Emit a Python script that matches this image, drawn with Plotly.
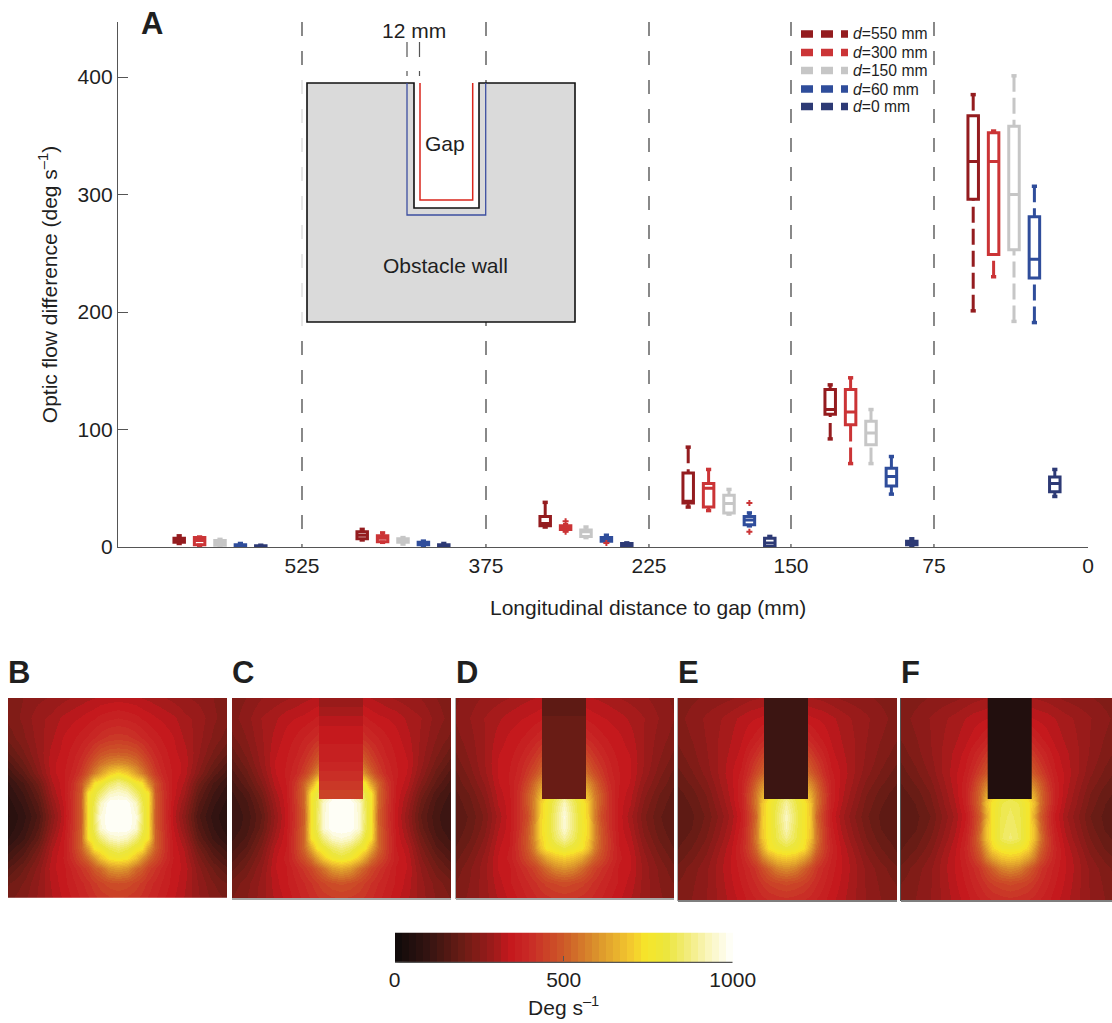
import plotly.graph_objects as go
from plotly.colors import sample_colorscale

W, H = 1112, 1023

# ---------- data: panel A ----------
DIST_LABELS = ["525", "375", "225", "150", "75", "0"]
Y_TICKS = [0, 100, 200, 300, 400]
SERIES_NAMES = ["d=550", "d=300", "d=150", "d=60", "d=0"]

D550_UPPER = [9.5, 15, 38, 85, 138, 385]
D550_Q3 = [7.5, 13, 26, 63, 134, 367]
D550_MED = [6, 10, 20, 39, 117, 328]
D550_Q1 = [4, 7, 18, 37.5, 113, 296]
D550_LOWER = [3, 6, 17, 34, 92, 201]

D300_UPPER = [8.5, 12, 19, 66, 144, 354]
D300_Q3 = [8, 9.5, 18, 54, 134, 352.6]
D300_MED = [5.5, 7.5, 16.5, 50, 115, 328]
D300_Q1 = [2, 4.5, 15, 34, 104, 249]
D300_LOWER = [1.5, 4, 14, 31, 71, 230]

D150_UPPER = [6.5, 8, 17, 49, 117, 401]
D150_Q3 = [5.5, 7, 14.5, 44, 107, 358]
D150_MED = [3.5, 5.5, 13, 37, 97, 300]
D150_Q1 = [1.5, 4, 9, 29, 87, 253]
D150_LOWER = [1, 2.5, 8, 28, 71, 192]

D60_UPPER = [3, 5, 10, 29, 77, 307]
D60_Q3 = [2, 4, 8, 26, 67, 281]
D60_MED = [1.5, 3, 6.5, 23, 60, 245]
D60_Q1 = [0.5, 2, 5, 19, 52, 229]
D60_LOWER = [0, 1, 4, 18, 45, 191]

D0_UPPER = [1.5, 3, 3.5, 9, 7, 66]
D0_Q3 = [1, 2, 3, 7.5, 5, 59.6]
D0_MED = [0.5, 1, 2, 3.5, 3.5, 54]
D0_Q1 = [0, 0.5, 1, 0.5, 2, 47]
D0_LOWER = [0, 0, 0.5, 0, 0.5, 43]

# outliers: (group index, series index, value)
OUTLIER_GROUP = [2, 2, 2, 3, 3]
OUTLIER_SERIES = [1, 1, 3, 3, 3]
OUTLIER_VALUE = [22, 13, 3.5, 37.5, 13]

# ---------- data: panels B-F (rows top to bottom, centre column outwards) ----------
FIELD_B = [
    [325, 322, 318, 312, 308, 302, 295, 285, 275, 265, 250, 235],
    [375, 370, 362, 352, 345, 336, 328, 318, 298, 285, 255, 235],
    [430, 425, 410, 395, 380, 365, 350, 335, 310, 280, 245, 215],
    [505, 500, 480, 450, 420, 390, 365, 340, 322, 275, 225, 185],
    [590, 575, 540, 500, 455, 410, 375, 345, 328, 265, 205, 160],
    [740, 700, 620, 560, 500, 430, 385, 350, 325, 250, 180, 130],
    [880, 840, 770, 745, 600, 490, 410, 345, 310, 215, 145, 100],
    [950, 930, 850, 790, 750, 500, 420, 345, 295, 190, 125, 85],
    [1000, 1000, 930, 820, 760, 510, 420, 335, 275, 170, 110, 72],
    [1000, 1000, 960, 840, 750, 500, 420, 325, 255, 150, 95, 60],
    [1000, 1000, 950, 830, 760, 510, 425, 335, 270, 165, 105, 68],
    [950, 930, 860, 790, 745, 520, 430, 345, 290, 185, 120, 82],
    [850, 820, 770, 750, 620, 510, 430, 350, 310, 215, 150, 110],
    [770, 750, 680, 600, 530, 470, 415, 355, 320, 240, 175, 135],
    [620, 600, 530, 500, 450, 420, 385, 345, 328, 258, 205, 165],
    [480, 470, 450, 430, 410, 390, 370, 345, 318, 270, 230, 205],
    [430, 425, 415, 405, 390, 375, 355, 335, 310, 275, 245, 225],
]
FIELD_C = [
    [330, 328, 322, 316, 312, 306, 298, 288, 280, 270, 250, 235],
    [385, 380, 370, 358, 348, 340, 334, 326, 308, 292, 262, 240],
    [445, 440, 425, 405, 390, 375, 358, 342, 320, 288, 250, 222],
    [530, 520, 495, 465, 430, 400, 372, 350, 330, 282, 235, 195],
    [620, 600, 560, 510, 465, 420, 385, 355, 335, 278, 220, 175],
    [770, 730, 650, 580, 510, 445, 395, 358, 332, 265, 200, 155],
    [900, 860, 790, 750, 620, 520, 430, 355, 322, 245, 180, 135],
    [970, 950, 880, 800, 750, 530, 440, 350, 305, 220, 155, 120],
    [1000, 1000, 940, 830, 760, 530, 435, 345, 290, 200, 140, 110],
    [1000, 1000, 950, 840, 750, 510, 430, 340, 275, 185, 130, 105],
    [1000, 1000, 950, 830, 760, 525, 435, 345, 285, 195, 135, 108],
    [960, 940, 870, 790, 745, 530, 445, 350, 300, 215, 150, 118],
    [870, 840, 780, 750, 640, 525, 440, 355, 320, 235, 170, 135],
    [790, 765, 700, 620, 545, 480, 425, 362, 330, 252, 195, 155],
    [640, 615, 545, 505, 460, 425, 392, 352, 332, 268, 215, 180],
    [485, 475, 455, 435, 415, 395, 375, 350, 325, 278, 240, 215],
    [430, 425, 418, 408, 395, 380, 360, 338, 315, 280, 250, 230],
]
FIELD_D = [
    [328, 325, 320, 316, 312, 308, 302, 292, 285, 275, 260, 245],
    [375, 370, 358, 348, 342, 336, 330, 322, 308, 292, 270, 250],
    [430, 425, 410, 392, 378, 362, 350, 338, 322, 290, 262, 240],
    [500, 495, 470, 440, 415, 390, 365, 345, 332, 290, 255, 225],
    [570, 555, 520, 480, 440, 410, 378, 350, 335, 290, 248, 215],
    [640, 620, 570, 520, 475, 430, 385, 355, 335, 285, 238, 200],
    [750, 720, 650, 590, 530, 460, 400, 355, 332, 272, 225, 190],
    [850, 800, 720, 650, 560, 490, 410, 350, 322, 258, 210, 180],
    [930, 840, 760, 700, 580, 490, 415, 345, 315, 245, 200, 172],
    [960, 860, 760, 710, 570, 470, 410, 345, 300, 232, 190, 168],
    [950, 860, 770, 720, 590, 490, 415, 345, 310, 240, 195, 170],
    [900, 840, 760, 710, 590, 495, 425, 350, 320, 252, 205, 176],
    [810, 780, 750, 680, 570, 490, 425, 355, 330, 265, 218, 186],
    [700, 680, 630, 570, 515, 465, 415, 360, 335, 278, 232, 198],
    [600, 580, 530, 490, 450, 420, 390, 350, 335, 282, 245, 212],
    [470, 460, 445, 428, 410, 392, 372, 350, 325, 282, 250, 228],
    [415, 410, 402, 395, 385, 372, 355, 335, 312, 280, 255, 238],
]
FIELD_E = [
    [305, 302, 298, 294, 290, 286, 278, 268, 262, 255, 245, 235],
    [360, 355, 345, 338, 333, 328, 318, 305, 290, 275, 258, 240],
    [425, 420, 405, 385, 365, 348, 330, 312, 295, 272, 250, 232],
    [495, 490, 465, 435, 405, 375, 340, 318, 298, 268, 242, 220],
    [565, 550, 515, 475, 435, 395, 350, 325, 298, 265, 235, 210],
    [630, 610, 560, 510, 465, 410, 360, 330, 298, 258, 225, 198],
    [740, 710, 640, 580, 520, 440, 370, 325, 292, 245, 212, 188],
    [830, 790, 710, 640, 550, 460, 375, 322, 282, 232, 198, 178],
    [900, 820, 750, 690, 560, 460, 370, 315, 272, 222, 190, 172],
    [930, 840, 750, 700, 530, 440, 355, 300, 258, 212, 182, 168],
    [920, 830, 750, 700, 550, 450, 365, 310, 268, 220, 186, 170],
    [880, 820, 750, 690, 560, 455, 375, 320, 278, 230, 195, 176],
    [800, 780, 740, 640, 530, 450, 385, 330, 292, 242, 208, 184],
    [700, 680, 620, 560, 480, 425, 375, 335, 302, 255, 222, 195],
    [590, 570, 510, 470, 425, 395, 365, 335, 306, 265, 238, 212],
    [465, 455, 440, 420, 400, 380, 355, 330, 302, 268, 245, 228],
    [405, 400, 392, 385, 372, 360, 340, 320, 298, 270, 250, 235],
]
FIELD_F = [
    [300, 298, 295, 292, 288, 284, 276, 266, 260, 252, 242, 230],
    [350, 346, 338, 332, 327, 322, 312, 300, 288, 272, 256, 238],
    [410, 405, 392, 375, 358, 342, 325, 308, 293, 270, 248, 230],
    [470, 465, 445, 420, 395, 370, 340, 318, 298, 268, 240, 218],
    [530, 520, 490, 455, 420, 385, 350, 322, 298, 262, 232, 206],
    [590, 575, 530, 490, 450, 405, 358, 328, 298, 255, 222, 196],
    [690, 670, 610, 560, 505, 430, 368, 325, 290, 242, 210, 186],
    [790, 770, 690, 620, 530, 450, 372, 320, 280, 230, 196, 178],
    [830, 810, 750, 680, 540, 450, 368, 312, 272, 220, 188, 172],
    [840, 820, 750, 640, 510, 425, 350, 298, 258, 208, 180, 168],
    [850, 825, 750, 680, 530, 435, 360, 308, 268, 216, 184, 170],
    [860, 830, 750, 680, 550, 450, 372, 318, 278, 228, 194, 176],
    [780, 770, 720, 620, 520, 445, 382, 328, 292, 240, 206, 184],
    [700, 680, 620, 560, 480, 425, 375, 335, 302, 255, 222, 195],
    [590, 570, 510, 470, 425, 395, 365, 335, 306, 265, 238, 212],
    [465, 455, 440, 420, 400, 380, 355, 330, 302, 268, 245, 228],
    [405, 400, 392, 385, 372, 360, 340, 320, 298, 270, 250, 235],
]
# value of the gap patch, from its top band to its bottom band
GAP_C = [285, 300, 320, 335, 345, 355, 370, 385, 400, 420, 440]
GAP_D = [170, 170, 195, 195, 195, 195, 195, 195, 195, 195, 195]
GAP_E = [118, 118, 118, 118, 118, 118, 118, 118, 118, 118, 118]
GAP_F = [58, 58, 58, 58, 58, 58, 58, 58, 58, 58, 58]
CBAR_TICKS = [0, 500, 1000]

# ---------- layout constants (pixels of the page) ----------
GROUP_PX = [220, 403, 586, 729, 871, 1014]
SERIES_STEP = 20.4
DIVIDER_PX = [302, 486, 649, 791, 934]
TICK_PX = DIVIDER_PX + [1088]
COLORS = ["#941c1f", "#cb3436", "#c6c6c6", "#2f4d9b", "#2d3a75"]
LEGEND_ROW_PX = [34, 52.5, 70.5, 89, 106.5]
FONT = "Liberation Sans"
INK = "#1f1f1f"
AXIS = "#555555"
AX_L, AX_R, AX_TOP, AX_BOT = 118, 1088, 22, 547
Y_TOP = (AX_BOT - AX_TOP) / 1.175
TEXT_SIZE = 21


def px(x):
    return x / W


def py(y):
    return 1 - y / H


stats = [
    (D550_UPPER, D550_Q3, D550_MED, D550_Q1, D550_LOWER),
    (D300_UPPER, D300_Q3, D300_MED, D300_Q1, D300_LOWER),
    (D150_UPPER, D150_Q3, D150_MED, D150_Q1, D150_LOWER),
    (D60_UPPER, D60_Q3, D60_MED, D60_Q1, D60_LOWER),
    (D0_UPPER, D0_Q3, D0_MED, D0_Q1, D0_LOWER),
]


def slot(group, series):
    return GROUP_PX[group] + (series - 2) * SERIES_STEP


fig = go.Figure()

for s, (upper, q3, med, q1, lower) in enumerate(stats):
    col = COLORS[s]
    xs = [slot(g, s) for g in range(len(GROUP_PX))]
    wx, wy, cx, cy = [], [], [], []
    for x, u, a, b, l in zip(xs, upper, q3, q1, lower):
        wx += [x, x, None, x, x, None]
        wy += [u, a, None, l, b, None]
        cx += [x - 2.6, x + 2.6, None, x - 2.6, x + 2.6, None]
        cy += [u, u, None, l, l, None]
    fig.add_trace(go.Scatter(x=wx, y=wy, mode="lines", showlegend=False, hoverinfo="skip",
                             line=dict(color=col, width=3, dash="16px,6px")))
    fig.add_trace(go.Scatter(x=cx, y=cy, mode="lines", showlegend=False, hoverinfo="skip",
                             line=dict(color=col, width=3.5)))
    fig.add_trace(go.Box(x=xs, q1=q1, median=med, q3=q3, lowerfence=q1, upperfence=q3,
                         width=10.5, boxpoints=False, showlegend=False,
                         line=dict(color=col, width=3), fillcolor="white",
                         whiskerwidth=0))

fig.add_trace(go.Scatter(
    x=[slot(g, s) for g, s in zip(OUTLIER_GROUP, OUTLIER_SERIES)], y=OUTLIER_VALUE,
    mode="markers", showlegend=False, hoverinfo="skip",
    marker=dict(symbol="cross", size=5, color=COLORS[1], line=dict(width=0))))

# ---------- heat-map panels ----------
HALF_COLS = [0, 9, 18, 24, 30, 37, 45, 55, 66, 80, 95, 110]
FULL_COLS = [-c for c in HALF_COLS[:0:-1]] + HALF_COLS
ROWS = [0, 20, 40, 55, 65, 75, 85, 95, 105, 118, 130, 140, 150, 160, 170, 185, 203]
panels = [
    ("B", FIELD_B, None, 8, 227, 698, 897.7, 117.5),
    ("C", FIELD_C, GAP_C, 232, 451, 698, 898, 341),
    ("D", FIELD_D, GAP_D, 456, 674, 698, 898, 564),
    ("E", FIELD_E, GAP_E, 678, 897, 698, 900, 786),
    ("F", FIELD_F, GAP_F, 901, 1112, 698, 900, 1009.7),
]
GAP_HALF = 22
GAP_DEPTH = 100.5

layout_axes = {}
annotations = []
for i, (letter, field, gap, left, right, top, bottom, centre) in enumerate(panels):
    n = i + 2
    z = [row[:0:-1] + row for row in field]
    fig.add_trace(go.Heatmap(x=FULL_COLS, y=ROWS, z=z, coloraxis="coloraxis", zsmooth="best",
                             xaxis=f"x{n}", yaxis=f"y{n}", hoverinfo="skip"))
    if gap:
        band = GAP_DEPTH / len(gap)
        fig.add_trace(go.Heatmap(x=[-GAP_HALF, GAP_HALF],
                                 y=[k * band for k in range(len(gap) + 1)],
                                 z=[[v] for v in gap], coloraxis="coloraxis", zsmooth=False,
                                 xaxis=f"x{n}", yaxis=f"y{n}", hoverinfo="skip"))
    layout_axes[f"xaxis{n}"] = dict(domain=[px(left), px(right)], range=[left - centre, right - centre],
                                    visible=False, anchor=f"y{n}")
    layout_axes[f"yaxis{n}"] = dict(domain=[py(bottom), py(top)], range=[bottom - top, 0],
                                    visible=False, anchor=f"x{n}")
    annotations.append(dict(text=f"<b>{letter}</b>", xref="paper", yref="paper", x=px(left), y=py(672),
                            xanchor="left", yanchor="middle", showarrow=False,
                            font=dict(size=31, family=FONT, color=INK), xshift=-2))


def note(text, x, y, size=TEXT_SIZE, anchor="center"):
    annotations.append(dict(text=text, xref="paper", yref="paper", x=px(x), y=py(y), showarrow=False,
                            xanchor=anchor, yanchor="middle",
                            font=dict(size=size, family=FONT, color=INK)))


note("<b>A</b>", 152, 24, size=31)
note("Longitudinal distance to gap (mm)", 648, 607)
note("12 mm", 414, 31)
note("Gap", 445, 143)
note("Obstacle wall", 445, 265)

# ---------- schematic and rules ----------
shapes = []


def hline(x0, y0, x1, y1, color, width, dash=None, layer="above", opacity=1):
    line = dict(color=color, width=width)
    if dash:
        line["dash"] = dash
    shapes.append(dict(type="line", xref="paper", yref="paper", x0=px(x0), y0=py(y0), x1=px(x1), y1=py(y1),
                       line=line, layer=layer, opacity=opacity))


def pathof(points, close=False):
    s = "M " + " L ".join(f"{px(x):.5f} {py(y):.5f}" for x, y in points)
    return s + (" Z" if close else "")


for x in DIVIDER_PX:
    hline(x, AX_TOP, x, AX_BOT, "#4a4a4a", 1.3, dash="14px,15px", layer="below")
for x in (407, 419.5):
    hline(x, 42, x, 76, "#555555", 1.2, dash="15px,14px")
shapes.append(dict(type="rect", xref="paper", yref="paper", x0=px(296), x1=px(307), y0=py(78), y1=py(328),
                   fillcolor="white", opacity=0.8, line=dict(width=0), layer="above"))
shapes.append(dict(type="path", xref="paper", yref="paper",
                   path=pathof([(307, 83), (414, 83), (414, 208), (479, 208), (479, 83),
                                (575, 83), (575, 322), (307, 322)], close=True),
                   fillcolor="#dadada", line=dict(color="#111111", width=1.6), layer="above"))
shapes.append(dict(type="path", xref="paper", yref="paper",
                   path=pathof([(407, 83), (407, 215), (485.7, 215), (485.7, 83)]),
                   line=dict(color="#3d4fa0", width=1.3), layer="above"))
shapes.append(dict(type="path", xref="paper", yref="paper",
                   path=pathof([(420, 83), (420, 200), (472.7, 200), (472.7, 83)]),
                   line=dict(color="#d9261c", width=1.5), layer="above"))

# legend: three heavy dashes and a label per series
for name, col, row in zip(SERIES_NAMES, COLORS, LEGEND_ROW_PX):
    hline(801, row, 848, row, col, 7.5, dash="12px,8px")
    note(name.replace("d", "<i>d</i>") + " mm", 851, row, size=15.7, anchor="left")

# panel borders seen in the reference
hline(232, 899, 451, 899, "#888888", 1.5)
hline(456, 899, 674, 899, "#888888", 1.5)
hline(455.5, 698, 455.5, 899, "#aaaaaa", 1)
hline(678, 901, 897, 901, "#555555", 1.5)
hline(677.5, 698, 677.5, 901, "#aaaaaa", 1)
hline(901, 901, 1112, 901, "#555555", 1.5)
hline(900.5, 698, 900.5, 901, "#555555", 1)
# colour-bar rule and seam
hline(395, 962, 732.5, 962, "#555555", 1.8)
hline(395, 962, 730, 933, "white", 0.6, opacity=0.45)

bands = 48
anchors = [[0, "#0e0a0a"], [0.1, "#341411"], [0.2, "#6a1c15"], [0.3, "#a41b1b"], [0.335, "#c4161c"],
           [0.4, "#c92b26"], [0.5, "#cd5a28"], [0.6, "#db942c"], [0.7, "#f4c92e"], [0.745, "#f6e62a"],
           [0.8, "#ece63c"], [0.87, "#f3ec80"], [0.93, "#faf6c0"], [1, "#ffffff"]]
band_cols = sample_colorscale(anchors, [(i + 0.5) / bands for i in range(bands)])
stepped = []
for i, c in enumerate(band_cols):
    stepped += [[i / bands, c], [(i + 1) / bands, c]]

fig.update_layout(
    width=W, height=H, margin=dict(l=0, r=0, t=0, b=0, autoexpand=False), autosize=False,
    paper_bgcolor="white", plot_bgcolor="white", boxmode="overlay", showlegend=False,
    font=dict(family=FONT, size=TEXT_SIZE, color=INK),
    xaxis=dict(domain=[px(AX_L), px(AX_R)], range=[AX_L, AX_R], tickmode="array", tickvals=TICK_PX,
               ticktext=DIST_LABELS, ticks="inside", ticklen=3, tickcolor="#999999", tickwidth=1,
               showline=True, linecolor=AXIS, linewidth=1.3, showgrid=False, zeroline=False,
               anchor="y", tickfont=dict(size=TEXT_SIZE, family=FONT, color=INK)),
    yaxis=dict(domain=[py(AX_BOT), py(AX_TOP)], range=[0, Y_TOP], tickmode="array", tickvals=Y_TICKS,
               ticks="inside", ticklen=10, tickcolor=AXIS, tickwidth=1.1,
               showline=True, linecolor=AXIS, linewidth=1.3, showgrid=False, zeroline=False,
               anchor="x", tickfont=dict(size=TEXT_SIZE, family=FONT, color=INK),
               title=dict(text="Optic flow difference (deg s<sup>\u20131</sup>)", standoff=14,
                          font=dict(size=TEXT_SIZE, family=FONT, color=INK))),
    coloraxis=dict(colorscale=stepped, cmin=0, cmax=1000,
                   colorbar=dict(orientation="h", thickness=28.5, thicknessmode="pixels",
                                 len=337.5, lenmode="pixels", x=px(563.7), xanchor="center",
                                 y=py(975.5), yanchor="middle", xpad=0, ypad=0, outlinewidth=0,
                                 tickmode="array", tickvals=CBAR_TICKS, ticks="inside", ticklen=5,
                                 tickcolor=AXIS, tickwidth=1.2,
                                 tickfont=dict(size=TEXT_SIZE, family=FONT, color=INK),
                                 title=dict(text="Deg s<sup>\u20131</sup>", side="bottom",
                                            font=dict(size=TEXT_SIZE, family=FONT, color=INK)))),
    annotations=annotations, shapes=shapes,
    **layout_axes,
)

fig.write_html("out.html", config=dict(displayModeBar=False),
               post_script="document.body.style.margin='0';document.body.style.overflow='hidden';")
